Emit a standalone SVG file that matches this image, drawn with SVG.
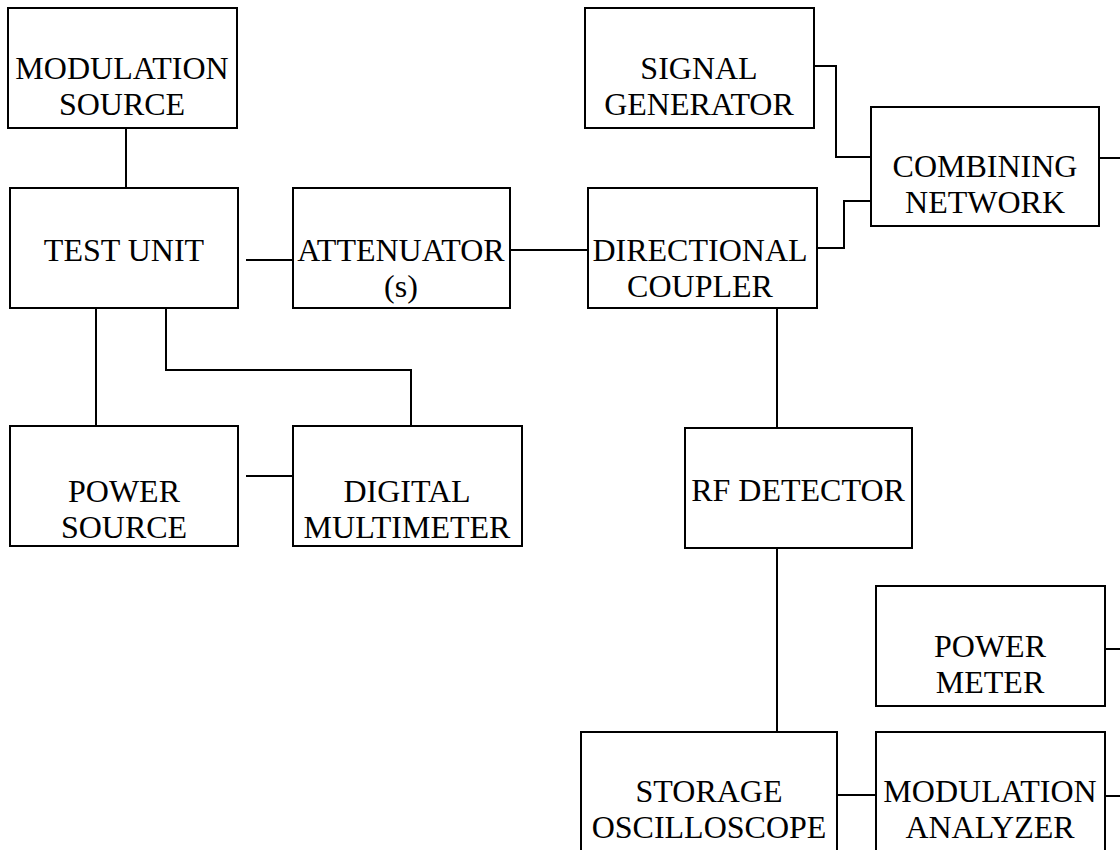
<svg xmlns="http://www.w3.org/2000/svg" width="1120" height="850" viewBox="0 0 1120 850" font-family="Liberation Serif, DejaVu Serif, serif">
<style>
.box{fill:#fff;stroke:#000;stroke-width:2}
.lbl{font-size:32px;fill:#000;text-anchor:middle}
.wire{fill:none;stroke:#000;stroke-width:2}
</style>
<rect width="1120" height="850" fill="#fff"/>
<g id="connectors">
<path class="wire" d="M126,128 V188"/>
<path class="wire" d="M246,260 H293"/>
<path class="wire" d="M510,250 H588"/>
<path class="wire" d="M96,304 V426"/>
<path class="wire" d="M166,308 V370 H411 V426"/>
<path class="wire" d="M246,476 H293"/>
<path class="wire" d="M814,66 H836 V157 H871"/>
<path class="wire" d="M817,248 H844 V201 H871"/>
<path class="wire" d="M1099,158 H1120"/>
<path class="wire" d="M777,308 V428"/>
<path class="wire" d="M777,548 V732"/>
<path class="wire" d="M837,795 H876"/>
<path class="wire" d="M1105,649 H1120"/>
<path class="wire" d="M1105,796 H1120"/>
</g>
<g id="modulation-source"><rect class="box" x="8" y="8" width="229" height="120"/><text class="lbl" font-family="Liberation Serif, serif" x="122" y="79">MODULATION</text><text class="lbl" font-family="Liberation Serif, serif" x="122" y="115">SOURCE</text></g>
<g id="test-unit"><rect class="box" x="10" y="188" width="228" height="120"/><text class="lbl" font-family="Liberation Serif, serif" x="124" y="261">TEST UNIT</text></g>
<g id="attenuator"><rect class="box" x="293" y="188" width="217" height="120"/><text class="lbl" font-family="Liberation Serif, serif" x="401" y="261">ATTENUATOR</text><text class="lbl" font-family="Liberation Serif, serif" x="401" y="297">(s)</text></g>
<g id="directional-coupler"><rect class="box" x="588" y="188" width="229" height="120"/><text class="lbl" font-family="Liberation Serif, serif" x="700" y="261">DIRECTIONAL</text><text class="lbl" font-family="Liberation Serif, serif" x="700" y="297">COUPLER</text></g>
<g id="signal-generator"><rect class="box" x="585" y="8" width="229" height="120"/><text class="lbl" font-family="Liberation Serif, serif" x="699" y="79">SIGNAL</text><text class="lbl" font-family="Liberation Serif, serif" x="699" y="115">GENERATOR</text></g>
<g id="combining-network"><rect class="box" x="871" y="107" width="228" height="119"/><text class="lbl" font-family="Liberation Serif, serif" x="985" y="177">COMBINING</text><text class="lbl" font-family="Liberation Serif, serif" x="985" y="213">NETWORK</text></g>
<g id="power-source"><rect class="box" x="10" y="426" width="228" height="120"/><text class="lbl" font-family="Liberation Serif, serif" x="124" y="502">POWER</text><text class="lbl" font-family="Liberation Serif, serif" x="124" y="538">SOURCE</text></g>
<g id="digital-multimeter"><rect class="box" x="293" y="426" width="229" height="120"/><text class="lbl" font-family="Liberation Serif, serif" x="407" y="502">DIGITAL</text><text class="lbl" font-family="Liberation Serif, serif" x="407" y="538">MULTIMETER</text></g>
<g id="rf-detector"><rect class="box" x="685" y="428" width="227" height="120"/><text class="lbl" font-family="Liberation Serif, serif" x="798" y="501">RF DETECTOR</text></g>
<g id="power-meter"><rect class="box" x="876" y="586" width="229" height="120"/><text class="lbl" font-family="Liberation Serif, serif" x="990" y="657">POWER</text><text class="lbl" font-family="Liberation Serif, serif" x="990" y="693">METER</text></g>
<g id="storage-oscilloscope"><rect class="box" x="581" y="732" width="256" height="140"/><text class="lbl" font-family="Liberation Serif, serif" x="709" y="802">STORAGE</text><text class="lbl" font-family="Liberation Serif, serif" x="709" y="838">OSCILLOSCOPE</text></g>
<g id="modulation-analyzer"><rect class="box" x="876" y="732" width="229" height="140"/><text class="lbl" font-family="Liberation Serif, serif" x="990" y="802">MODULATION</text><text class="lbl" font-family="Liberation Serif, serif" x="990" y="838">ANALYZER</text></g>
</svg>
